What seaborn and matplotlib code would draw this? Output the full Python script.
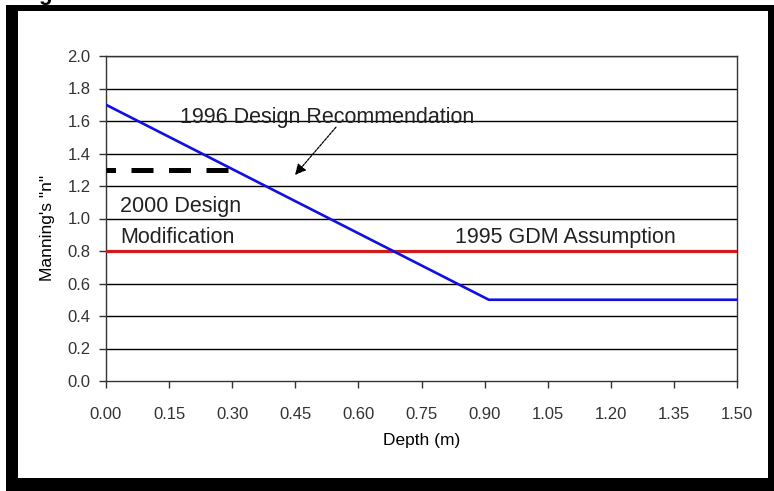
import matplotlib
matplotlib.use("Agg")
import matplotlib.pyplot as plt
import matplotlib.patches as patches
import seaborn as sns
import pandas as pd

# values
depth_1996 = [0.0, 0.91, 1.5]
n_1996 = [1.7, 0.5, 0.5]
depth_1995 = [0.0, 1.5]
n_1995 = [0.8, 0.8]
depth_2000 = [0.0, 0.30]
n_2000 = [1.3, 1.3]

x_ticks = [0.0, 0.15, 0.30, 0.45, 0.60, 0.75, 0.90, 1.05, 1.20, 1.35, 1.50]
y_ticks = [0.0, 0.2, 0.4, 0.6, 0.8, 1.0, 1.2, 1.4, 1.6, 1.8, 2.0]

sns.set_theme(style="white")
plt.rcParams['font.family'] = ['Liberation Sans', 'DejaVu Sans']

fig = plt.figure(figsize=(7.74, 4.91), dpi=100)
ax = fig.add_axes([106 / 774, 1 - 381 / 491, 631 / 774, 325 / 491])

# horizontal gridlines
for y in y_ticks[1:]:
    ax.axhline(y, color='black', linewidth=1.0, zorder=1)

sns.lineplot(x=depth_1995, y=n_1995, ax=ax, color='#d01c1c', linewidth=2.3, zorder=3)
sns.lineplot(x=depth_1996, y=n_1996, ax=ax, color='#1010e0', linewidth=1.9, zorder=4)
sns.lineplot(x=depth_2000, y=n_2000, ax=ax, color='black', linewidth=3.6,
             linestyle=(2.5, (4.4, 3.1)), zorder=5)

ax.set_xlim(0, 1.5)
ax.set_ylim(0, 2.0)
ax.set_xticks(x_ticks)
ax.set_yticks(y_ticks)
ax.set_xticklabels([f"{v:.2f}" for v in x_ticks])
ax.set_yticklabels([f"{v:.1f}" for v in y_ticks])
ax.tick_params(axis='both', direction='out', length=5, width=1, color='#333333',
               labelsize=12, labelcolor='#333333', left=True, bottom=True)
ax.tick_params(axis='x', pad=14)
ax.tick_params(axis='y', pad=6)
for s in ax.spines.values():
    s.set_color('#333333')
    s.set_linewidth(1.0)

ax.set_xlabel("Depth (m)", fontsize=12.5, color='black', labelpad=8)
ax.set_ylabel("Manning's \"n\"", fontsize=12.5, color='black')
ax.yaxis.set_label_coords(-0.081, 0.47)

txt_kw = dict(fontsize=15.5, color='#222222', va='baseline', ha='left')
ax.text(0.176, 1.588, "1996 Design Recommendation", **txt_kw)
ax.text(0.033, 1.04, "2000 Design", **txt_kw)
ax.text(0.033, 0.849, "Modification", **txt_kw)
ax.text(0.83, 0.849, "1995 GDM Assumption", **txt_kw)
ax.annotate("", xy=(0.445, 1.255), xytext=(0.551, 1.575),
            arrowprops=dict(arrowstyle='-|>', color='black', lw=0.9,
                            linestyle=(0, (2, 1)), mutation_scale=16))

# outer frame
frame_kw = dict(facecolor='black', edgecolor='none', transform=None, zorder=10)
fig.patches.append(patches.Rectangle((6, 491 - 491), 12, 486, **frame_kw))
fig.patches.append(patches.Rectangle((6, 491 - 11), 768, 6, **frame_kw))
fig.patches.append(patches.Rectangle((768, 0), 6, 486, **frame_kw))
fig.patches.append(patches.Rectangle((6, 0), 768, 13, **frame_kw))
fig.text(38 / 774, 1.0, "g", fontsize=16, fontweight='bold', va='baseline', color='black')

fig.savefig("out.png", dpi=100)
